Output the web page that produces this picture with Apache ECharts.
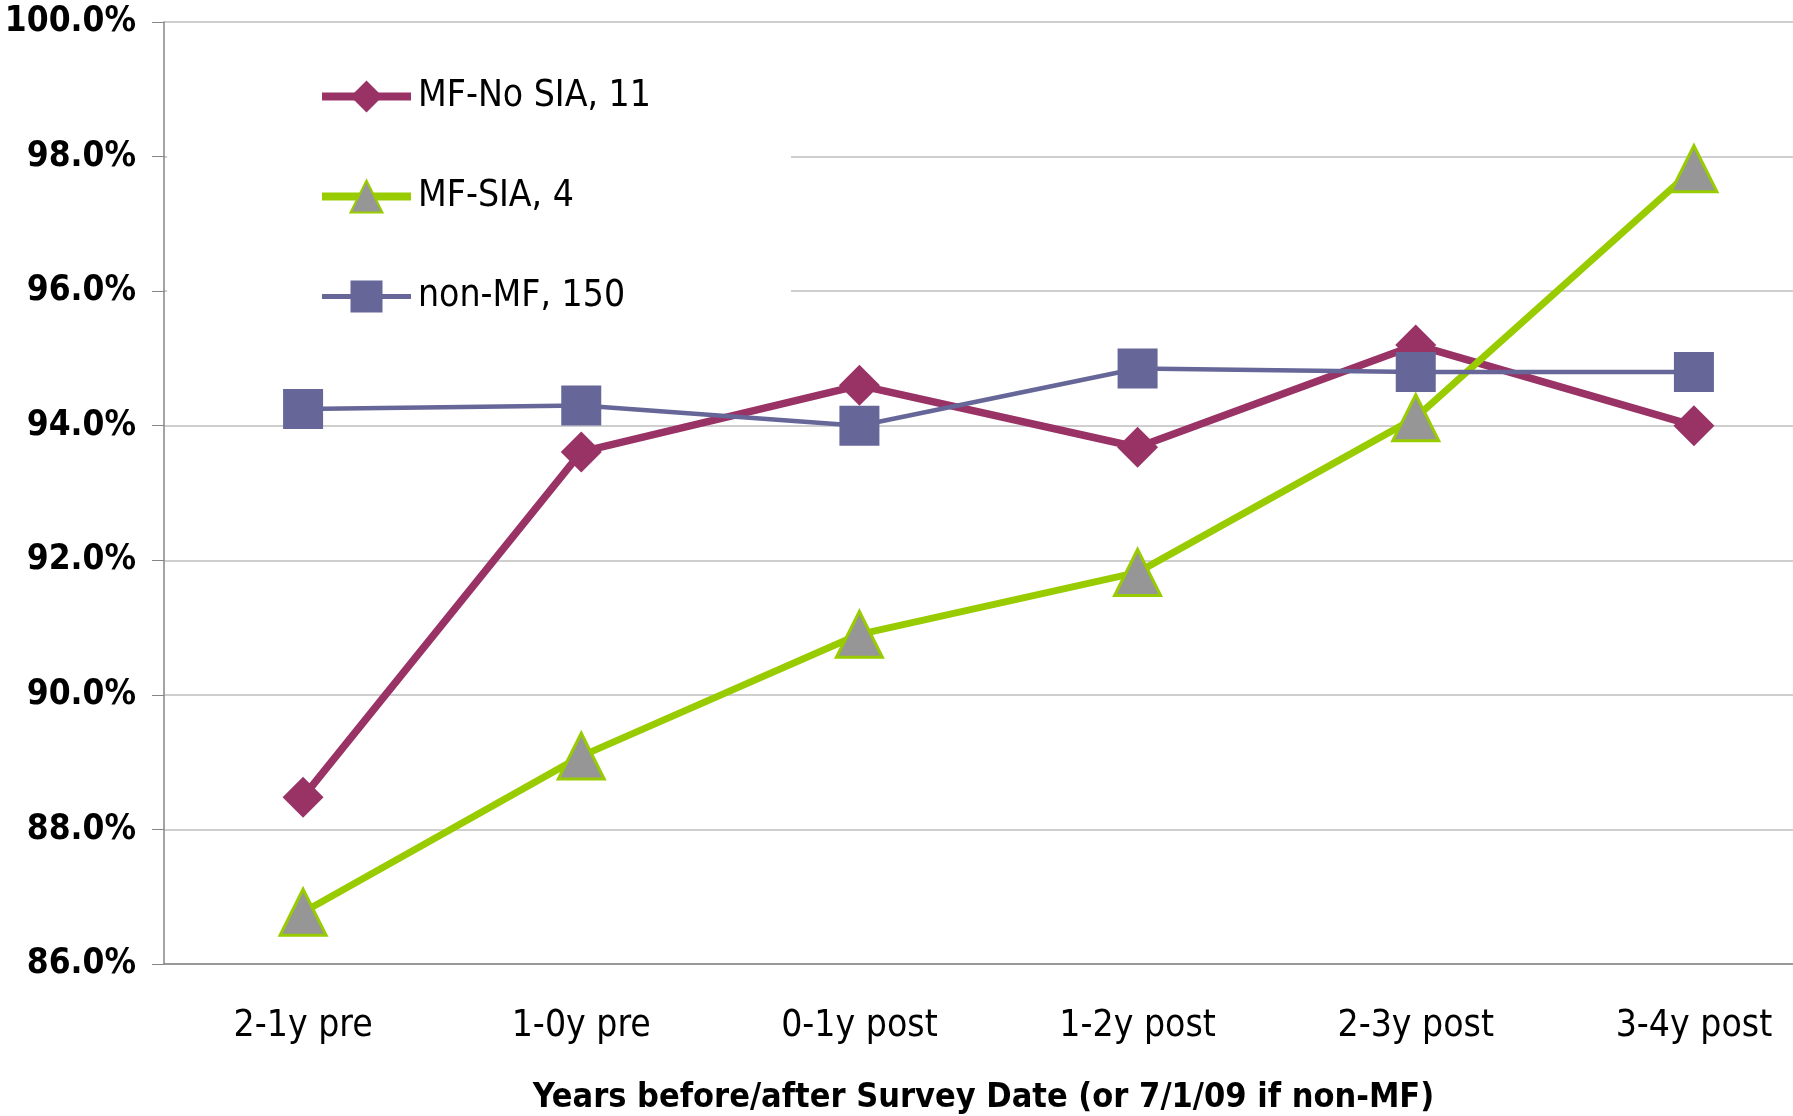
<!DOCTYPE html>
<html>
<head>
<meta charset="utf-8">
<title>chart</title>
<script src="https://cdn.jsdelivr.net/npm/echarts@6/dist/echarts.min.js"></script>
<style>
  html, body { margin: 0; padding: 0; background: #fff; }
  #myChart_0 { width: 1793px; height: 1116px; }
</style>
</head>
<body>
<div id="myChart_0"></div>
<script>
var categories = ['2-1y pre', '1-0y pre', '0-1y post', '1-2y post', '2-3y post', '3-4y post'];
var mfNoSia = [88.48, 93.61, 94.60, 93.68, 95.20, 94.00];
var mfSia = [86.77, 89.09, 90.90, 91.82, 94.12, 97.82];
var nonMf = [94.25, 94.30, 94.00, 94.85, 94.80, 94.80];
var seriesNames = ['MF-No SIA, 11', 'MF-SIA, 4', 'non-MF, 150'];
var axisTitle = 'Years before/after Survey Date (or 7/1/09 if non-MF)';

var font = '"DejaVu Sans Condensed", "Liberation Sans", sans-serif';

var myChart = echarts.init(document.getElementById('myChart_0'));
myChart.setOption({
  animation: false,
  backgroundColor: '#fff',
  grid: {
    left: 164,
    top: 22,
    width: 1669,
    height: 942,
    containLabel: false,
    outerBoundsMode: 'none'
  },
  // 图例带白底，盖住98%/96%网格线
  legend: {
    orient: 'vertical',
    left: 167,
    top: 38,
    padding: [40, 140, 30, 151],
    backgroundColor: '#fff',
    itemWidth: 89,
    itemHeight: 40,
    itemGap: 63,
    textStyle: { fontFamily: font, fontSize: 37, color: '#000', padding: [0, 0, 0, 2] },
    data: [
      { name: seriesNames[0], lineStyle: { width: 8 } },
      { name: seriesNames[1], lineStyle: { width: 8 } },
      { name: seriesNames[2], lineStyle: { width: 5 } }
    ]
  },
  xAxis: {
    type: 'category',
    data: categories,
    boundaryGap: true,
    axisLine: { lineStyle: { color: '#868686', width: 1.5 } },
    axisTick: { length: 14, lineStyle: { color: '#868686' } },
    axisLabel: { margin: 44, fontFamily: font, fontSize: 37, color: '#000', lineHeight: 37 },
    name: axisTitle,
    nameLocation: 'middle',
    nameGap: 117,
    nameTextStyle: { fontFamily: font, fontSize: 34, fontWeight: 'bold', color: '#000', padding: [0, 30, 0, 0] }
  },
  yAxis: {
    type: 'value',
    min: 86,
    max: 100,
    interval: 2,
    axisLine: { show: true, lineStyle: { color: '#868686', width: 1.5 } },
    axisTick: { show: true, length: 12, lineStyle: { color: '#868686' } },
    axisLabel: {
      margin: 28,
      fontFamily: font,
      fontSize: 35,
      fontWeight: 'bold',
      color: '#000',
      formatter: function (v) { return v.toFixed(1) + '%'; }
    },
    splitLine: { lineStyle: { color: '#bfbfbf', width: 1.5 } }
  },
  series: [
    {
      name: seriesNames[0],
      type: 'line',
      data: mfNoSia,
      symbol: 'diamond',
      symbolSize: 41,
      lineStyle: { color: '#993366', width: 7.5 },
      itemStyle: { color: '#993366' },
      z: 3
    },
    {
      name: seriesNames[1],
      type: 'line',
      data: mfSia,
      symbol: 'triangle',
      symbolSize: 46,
      lineStyle: { color: '#99cc00', width: 7 },
      itemStyle: { color: '#969696', borderColor: '#99cc00', borderWidth: 3 },
      z: 4
    },
    {
      name: seriesNames[2],
      type: 'line',
      data: nonMf,
      symbol: 'rect',
      symbolSize: 40,
      lineStyle: { color: '#666699', width: 4.5 },
      itemStyle: { color: '#666699' },
      z: 5
    }
  ]
});
</script>
</body>
</html>
